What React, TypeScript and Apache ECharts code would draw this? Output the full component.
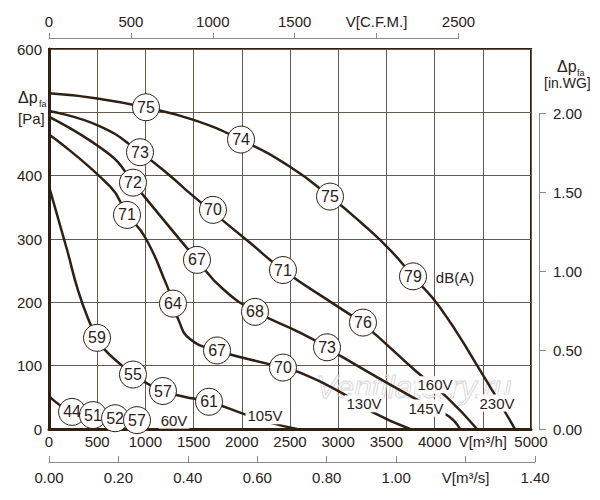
import { useEffect, useRef } from 'react';
import * as echarts from 'echarts';

// fan curves, flow in m³/h, pressure in Pa
const curve230V = [[0, 530], [500, 522], [1000, 508], [1500, 488], [2000, 456], [2500, 414], [2915, 367], [3250, 324], [3537, 283], [3776, 241], [4056, 192], [4450, 98], [4834, 0]];
const curve160V = [[0, 502], [529, 478], [944, 437], [1255, 400], [1463, 372], [1701, 342], [2085, 294], [2427, 251], [2988, 194], [3257, 166], [3817, 90], [4129, 50], [4440, 0]];
const curve145V = [[0, 493], [633, 433], [871, 389], [1000, 365], [1535, 267], [1805, 221], [2137, 186], [2604, 152], [2884, 129], [3050, 113], [3797, 48], [4139, 21], [4264, 0]];
const curve130V = [[0, 465], [633, 383], [809, 340], [1000, 302], [1224, 226], [1286, 200], [1338, 174], [1463, 142], [1743, 124], [2293, 102], [2427, 97], [2604, 89], [3050, 56], [3350, 27], [3745, 0]];
const curve105V = [[0, 383], [187, 283], [301, 219], [425, 167], [498, 144], [560, 128], [757, 100], [871, 86], [1017, 72], [1182, 60], [1400, 51], [1660, 43], [2054, 22], [2293, 10], [2573, 0]];
const curve60V = [[0, 52], [239, 27], [456, 21], [685, 16], [913, 11], [1000, 0]];

// noise levels dB(A) on the curves
const noisePoints = [
  { name: '75', value: [1006, 508] }, { name: '74', value: [1992, 457] }, { name: '75', value: [2915, 367] }, { name: '79', value: [3776, 241] },
  { name: '73', value: [944, 437] }, { name: '70', value: [1701, 346] }, { name: '71', value: [2427, 251] }, { name: '76', value: [3257, 168] },
  { name: '72', value: [871, 389] }, { name: '67', value: [1535, 267] }, { name: '68', value: [2137, 185] }, { name: '73', value: [2884, 129] },
  { name: '71', value: [809, 338] }, { name: '64', value: [1286, 198] }, { name: '67', value: [1743, 124] }, { name: '70', value: [2427, 97] },
  { name: '59', value: [498, 144] }, { name: '55', value: [871, 86] }, { name: '57', value: [1182, 60] }, { name: '61', value: [1660, 43] },
  { name: '44', value: [239, 27] }, { name: '51', value: [456, 22] }, { name: '52', value: [685, 17] }, { name: '57', value: [913, 14] },
];

const voltageLabels = [
  { name: '230V', value: [4647, 41] },
  { name: '160V', value: [4004, 70] },
  { name: '145V', value: [3911, 33] },
  { name: '130V', value: [3268, 40] },
  { name: '105V', value: [2241, 21] },
  { name: '60V', value: [1297, 14] },
];
const unitLabel = [{ name: 'dB(A)', value: [4212, 240] }];

const FONT = 'Liberation Sans, Arial, sans-serif';
const TEXT = '#2a2118';
const CURVE = '#2e2013';
const GRID = '#645a50';
const AXIS2 = '#8f8a85';

export default function App() {
  const chartRef = useRef<HTMLDivElement>(null);

  useEffect(() => {
    if (!chartRef.current) return;
    const chart = echarts.init(chartRef.current, null, { renderer: 'svg' });

    const labelStyle = { fontSize: 15, color: TEXT, fontFamily: FONT };
    const curveSeries = (data: number[][]) => ({
      type: 'line',
      xAxisIndex: 0,
      yAxisIndex: 0,
      data,
      showSymbol: false,
      smooth: 0.5,
      lineStyle: { color: CURVE, width: 2.5 },
      z: 3,
      silent: true,
    });
    // text-only scatter, used for the voltage and unit labels
    const textSeries = (data: any[], withBg: boolean) => ({
      type: 'scatter', xAxisIndex: 0, yAxisIndex: 0, data, symbolSize: 0, z: 4, silent: true,
      itemStyle: { color: '#fff', opacity: 1 },
      label: {
        show: true, position: 'inside', formatter: '{b}', ...labelStyle, textBorderWidth: 0,
        backgroundColor: withBg ? '#fff' : 'transparent', padding: withBg ? [1, 2] : 0,
      },
    });
    // placeholder axis so every grid has a pair
    const hidden = (gridIndex: number) => ({ gridIndex, type: 'value', show: false, min: 0, max: 1 });

    const option = {
      animation: false,
      backgroundColor: '#fff',
      grid: [
        { left: 49, top: 49, width: 482, height: 380, show: true, borderColor: CURVE, borderWidth: 2 },
        { left: 49, top: 38, width: 409.5, height: 1 },
        { left: 49, top: 461, width: 486, height: 1 },
        { left: 530, top: 113.5, width: 9, height: 315.5 },
      ],
      xAxis: [
        {
          gridIndex: 0, type: 'value', min: 0, max: 5000, interval: 500, position: 'bottom',
          axisLine: { show: true, onZero: false, lineStyle: { color: CURVE, width: 3 } },
          axisTick: { show: false },
          axisLabel: { ...labelStyle, margin: 5, formatter: (v: number) => (v === 4500 ? 'V[m³/h]' : String(v)) },
          splitLine: { show: true, lineStyle: { color: GRID, width: 1 } },
        },
        {
          gridIndex: 1, type: 'value', min: 0, max: 2500, interval: 500, position: 'top',
          axisLine: { show: true, onZero: false, lineStyle: { color: AXIS2, width: 1 } },
          axisTick: { show: true, length: 5, lineStyle: { color: AXIS2 } },
          axisLabel: { ...labelStyle, margin: 9, formatter: (v: number) => (v === 2000 ? 'V[C.F.M.]' : String(v)) },
          splitLine: { show: false },
        },
        {
          gridIndex: 2, type: 'value', min: 0, max: 1.4, interval: 0.2, position: 'bottom',
          axisLine: { show: true, onZero: false, lineStyle: { color: AXIS2, width: 1 } },
          axisTick: { show: true, inside: true, length: 6, lineStyle: { color: AXIS2 } },
          axisLabel: { ...labelStyle, margin: 8, formatter: (v: number) => (Math.abs(v - 1.2) < 1e-6 ? 'V[m³/s]' : v.toFixed(2)) },
          splitLine: { show: false },
        },
        hidden(3),
      ],
      yAxis: [
        {
          gridIndex: 0, type: 'value', min: 0, max: 600, interval: 100,
          axisLine: { show: true, onZero: false, lineStyle: { color: CURVE, width: 3 } },
          axisTick: { show: false },
          axisLabel: { ...labelStyle, margin: 7, formatter: (v: number) => (v === 500 ? '' : String(v)) },
          splitLine: { show: true, lineStyle: { color: GRID, width: 1 } },
        },
        {
          gridIndex: 3, type: 'value', min: 0, max: 2, interval: 0.5, position: 'right',
          axisLine: { show: true, onZero: false, lineStyle: { color: AXIS2, width: 1 } },
          axisTick: { show: true, length: 7, lineStyle: { color: AXIS2 } },
          axisLabel: { ...labelStyle, margin: 14, formatter: (v: number) => v.toFixed(2) },
          splitLine: { show: false },
        },
        hidden(1),
        hidden(2),
      ],
      graphic: [
        { type: 'text', x: 316, y: 371, z: 1, silent: true, style: { text: 'Ventilatorry.ru', fontSize: 32, fontStyle: 'italic', fontFamily: FONT, fill: 'transparent', stroke: '#d8d8d8', lineWidth: 1 } },
        { type: 'text', x: 18, y: 89, style: { text: 'Δp', fontSize: 16, fontFamily: FONT, fill: TEXT } },
        { type: 'text', x: 39, y: 99, style: { text: 'fa', fontSize: 9, fontFamily: FONT, fill: TEXT } },
        { type: 'text', x: 18, y: 111, style: { text: '[Pa]', fontSize: 15, fontFamily: FONT, fill: TEXT } },
        { type: 'text', x: 557, y: 58, style: { text: 'Δp', fontSize: 16, fontFamily: FONT, fill: TEXT } },
        { type: 'text', x: 577, y: 68, style: { text: 'fa', fontSize: 9, fontFamily: FONT, fill: TEXT } },
        { type: 'text', x: 544, y: 76, style: { text: '[in.WG]', fontSize: 14, fontFamily: FONT, fill: TEXT } },
      ],
      series: [
        curveSeries(curve230V),
        curveSeries(curve160V),
        curveSeries(curve145V),
        curveSeries(curve130V),
        curveSeries(curve105V),
        curveSeries(curve60V),
        textSeries(voltageLabels, true),
        textSeries(unitLabel, false),
        {
          type: 'scatter', xAxisIndex: 0, yAxisIndex: 0, data: noisePoints, symbol: 'circle', symbolSize: 27, z: 5, silent: true,
          itemStyle: { color: '#fff', borderColor: CURVE, borderWidth: 1, opacity: 1 },
          label: { show: true, position: 'inside', formatter: '{b}', fontSize: 16, color: TEXT, fontFamily: FONT, textBorderWidth: 0 },
        },
      ],
    };

    chart.setOption(option as any);
    return () => chart.dispose();
  }, []);

  return <div ref={chartRef} style={{ position: 'absolute', left: 0, top: 0, width: 600, height: 500 }} />;
}
